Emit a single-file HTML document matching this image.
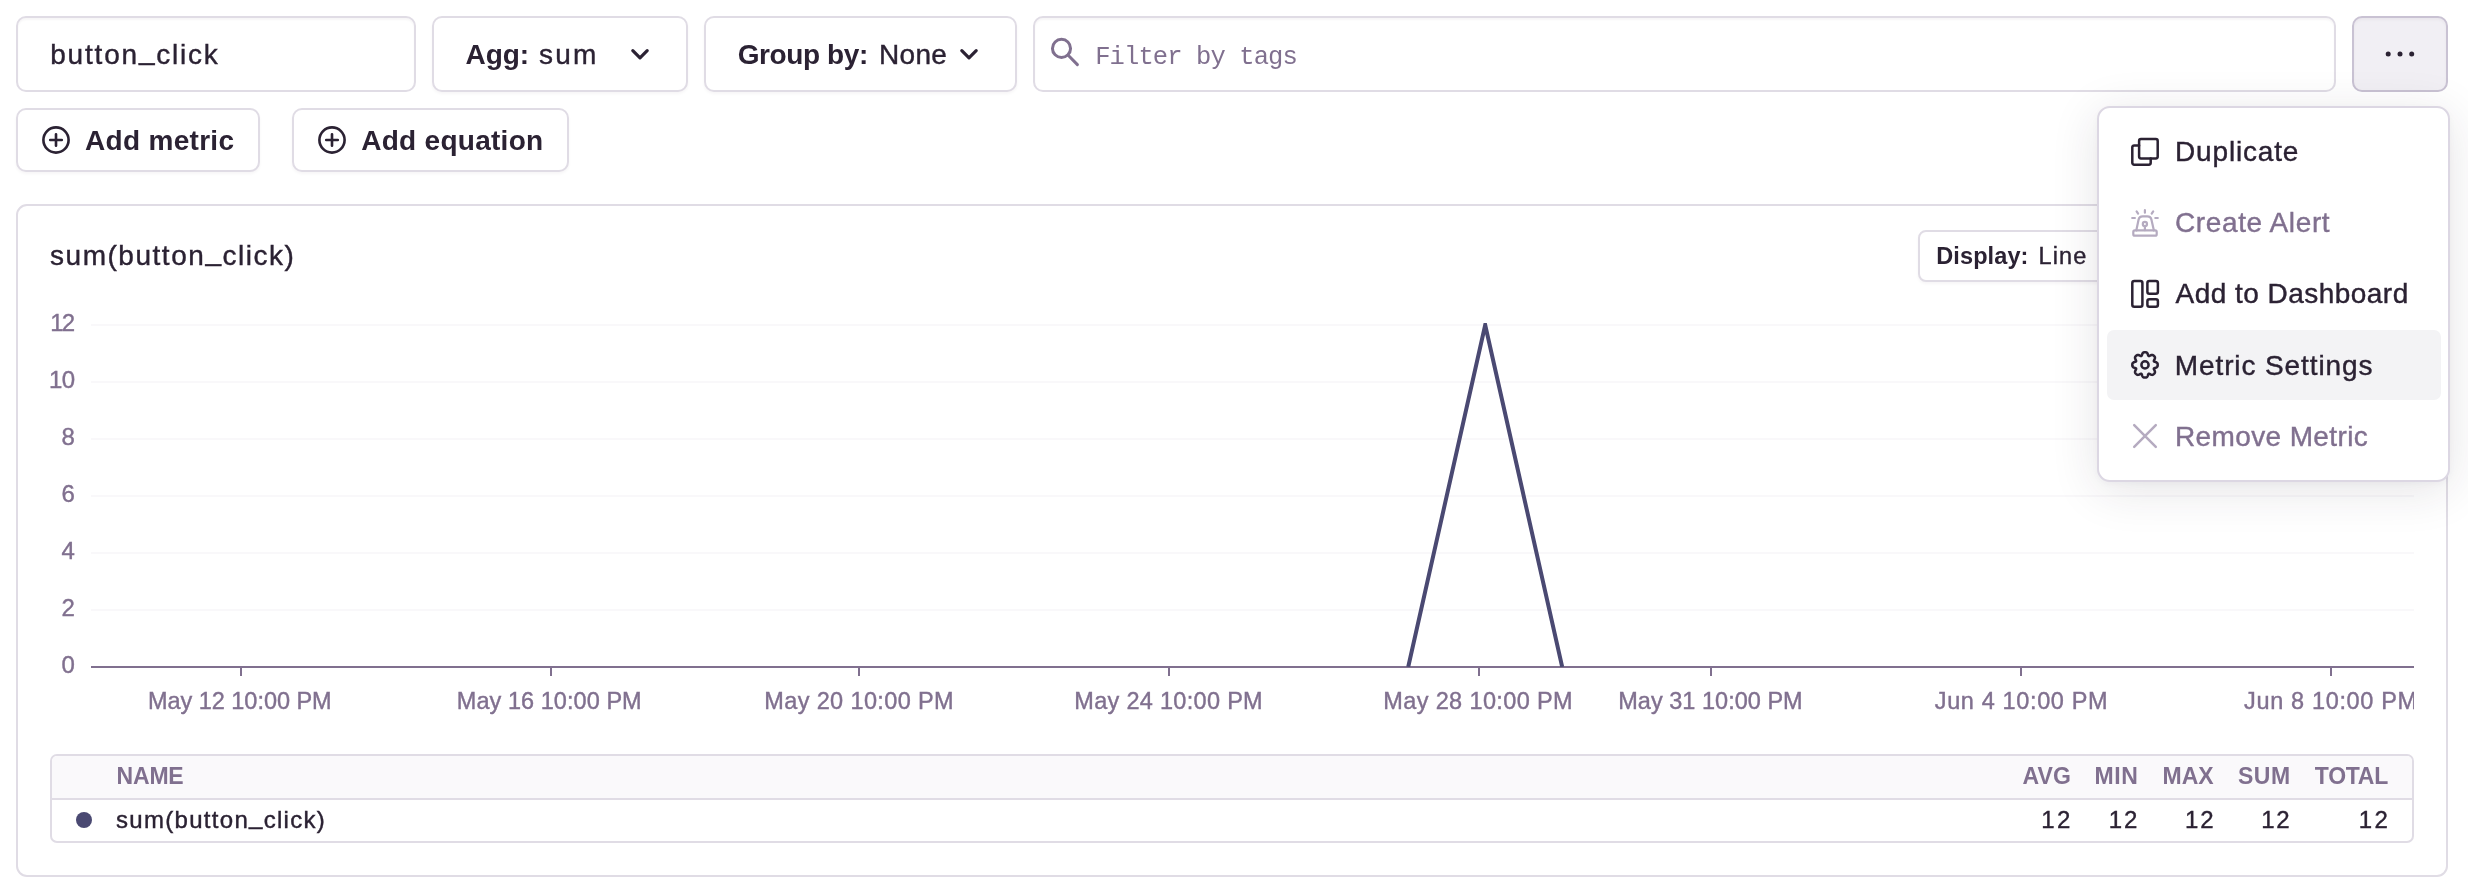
<!DOCTYPE html>
<html lang="en">
<head>
<meta charset="utf-8">
<title>Metrics</title>
<style>
html,body{margin:0;padding:0;background:#fff}
body{width:2468px;height:894px;position:relative;overflow:hidden;font-family:"Liberation Sans",Arial,sans-serif}
.t{position:absolute;white-space:pre;line-height:1;font-family:"Liberation Sans",Arial,sans-serif;-webkit-font-smoothing:antialiased}
.r{-webkit-text-stroke:0.4px currentColor}
.u{position:relative;top:-0.18em}
.abs{position:absolute;box-sizing:border-box}
.box{position:absolute;box-sizing:border-box;border:2px solid #e0dce5;border-radius:10px;background:#fff}
.input{box-shadow:inset 0 2px 2px rgba(43,34,51,.04)}
.btn{box-shadow:0 2px 3px rgba(43,34,51,.04)}
.btn.active{background:#f1eff4;border-color:#c9c2d3;box-shadow:inset 0 2px 3px rgba(43,34,51,.04)}
svg{position:absolute;overflow:visible}
.ic{fill:none;stroke:#2b2233;stroke-linecap:round;stroke-linejoin:round}
#txt{position:absolute;left:0;top:0;width:2468px;height:894px;will-change:transform}
#xclip{position:absolute;left:0;top:680px;width:2414px;height:50px;overflow:hidden}
#xclip .t{margin-top:-680px}
#menu{position:absolute;box-sizing:border-box;left:2097px;top:106px;width:353px;height:376px;border:2px solid #dcd7e3;border-radius:13px;background:#fff;box-shadow:0 8px 48px rgba(43,34,51,.12),0 2px 6px rgba(43,34,51,.03)}
#hover{position:absolute;left:2106.5px;top:329.5px;width:334px;height:70.5px;border-radius:7px;background:#f3f3f5}
.grid{position:absolute;left:91px;width:2323px;height:2px;background:#f9f8fa}
.tick{position:absolute;top:667px;width:2px;height:9px;background:#80708f}
</style>
</head>
<body>
<!-- query row -->
<div class="box input" style="left:16px;top:16px;width:400px;height:76px"></div>
<div class="box btn" style="left:432px;top:16px;width:256px;height:76px"></div>
<div class="box btn" style="left:704px;top:16px;width:313px;height:76px"></div>
<div class="box input" style="left:1033px;top:16px;width:1303px;height:76px"></div>
<div class="box btn active" style="left:2352px;top:16px;width:96px;height:76px"></div>
<!-- second row -->
<div class="box btn" style="left:16px;top:108px;width:244px;height:64px"></div>
<div class="box btn" style="left:292px;top:108px;width:277px;height:64px"></div>
<!-- chart panel -->
<div class="box" style="left:16px;top:204px;width:2432px;height:673px;border-radius:11px"></div>
<div class="box btn" style="left:1918px;top:230px;width:240px;height:52px;border-radius:8px"></div>
<!-- grid -->
<div class="grid" style="top:324px"></div>
<div class="grid" style="top:381px"></div>
<div class="grid" style="top:438px"></div>
<div class="grid" style="top:495px"></div>
<div class="grid" style="top:552px"></div>
<div class="grid" style="top:609px"></div>
<div class="abs" style="left:91px;top:666px;width:2323px;height:2px;background:#80708f"></div>
<div class="tick" style="left:240px"></div>
<div class="tick" style="left:550px"></div>
<div class="tick" style="left:858px"></div>
<div class="tick" style="left:1168px"></div>
<div class="tick" style="left:1478px"></div>
<div class="tick" style="left:1710px"></div>
<div class="tick" style="left:2020px"></div>
<div class="tick" style="left:2330px"></div>
<!-- series -->
<svg style="left:0;top:0" width="2468" height="894" viewBox="0 0 2468 894">
  <defs><clipPath id="gc"><rect x="91" y="323" width="2323" height="344"/></clipPath></defs>
  <polyline clip-path="url(#gc)" points="1408.2,667 1485.2,325 1562.2,667" fill="none" stroke="#4a4972" stroke-width="4" stroke-linejoin="miter" stroke-miterlimit="10"/>
</svg>
<!-- table -->
<div class="box" style="left:50px;top:754px;width:2364px;height:89px;border-radius:7px;overflow:hidden">
  <div class="abs" style="left:0;top:0;width:2360px;height:42px;background:#faf9fb"></div>
  <div class="abs" style="left:0;top:42px;width:2360px;height:2px;background:#e0dce5"></div>
</div>
<div class="abs" style="left:76px;top:812px;width:16px;height:16px;border-radius:8px;background:#4a4972"></div>
<!-- icons: top rows -->
<svg class="ic" style="left:42px;top:126px" width="28" height="28" viewBox="0 0 16 16" stroke-width="1.5"><circle cx="8" cy="8" r="7.2"/><path d="M8 4.7V11.3M4.7 8H11.3"/></svg>
<svg class="ic" style="left:318px;top:126px" width="28" height="28" viewBox="0 0 16 16" stroke-width="1.5"><circle cx="8" cy="8" r="7.2"/><path d="M8 4.7V11.3M4.7 8H11.3"/></svg>
<svg class="ic" style="left:0;top:0" width="2468" height="120" viewBox="0 0 2468 120" stroke-width="3.2"><path d="M632.8 50.6L640 57.8L647.2 50.6"/><path d="M961.8 50.6L969 57.8L976.2 50.6"/></svg>
<svg class="ic" style="left:0;top:0;stroke:#80708f" width="2468" height="120" viewBox="0 0 2468 120" stroke-width="3"><circle cx="1061.5" cy="48.4" r="9.05"/><path d="M1068.2 55.2L1077.4 64.6"/></svg>
<svg style="left:0;top:0" width="2468" height="120" viewBox="0 0 2468 120" fill="#2b2233"><circle cx="2388.2" cy="54" r="2.5"/><circle cx="2400" cy="54" r="2.5"/><circle cx="2411.7" cy="54" r="2.5"/></svg>
<!-- menu -->
<div id="menu"></div>
<div id="hover"></div>
<svg class="ic" style="left:0;top:0" width="2468" height="500" viewBox="0 0 2468 500" stroke-width="2.5">
<g stroke="#2b2233">
<rect x="2139.1" y="139.1" width="18.6" height="19.4" rx="1.9"/>
<path d="M2139.1 145.4H2134.2a1.9 1.9 0 0 0-1.9 1.9V162.8a1.9 1.9 0 0 0 1.9 1.9H2148.8a1.9 1.9 0 0 0 1.9-1.9V158.5"/>
<rect x="2132.3" y="281.1" width="10.1" height="25.6" rx="2"/>
<rect x="2147.4" y="281.1" width="10.5" height="12.7" rx="2"/>
<rect x="2147.4" y="299.2" width="10.5" height="7.5" rx="2"/>
<path d="M2145.00 352.20 L2145.33 352.20 L2145.66 352.22 L2145.99 352.27 L2146.32 352.35 L2146.63 352.50 L2146.93 352.72 L2147.20 353.02 L2147.44 353.40 L2147.65 353.84 L2147.84 354.32 L2147.99 354.79 L2148.14 355.23 L2148.29 355.60 L2148.46 355.87 L2148.67 356.03 L2148.93 356.07 L2149.25 356.00 L2149.61 355.84 L2150.03 355.64 L2150.48 355.41 L2150.94 355.20 L2151.40 355.04 L2151.84 354.95 L2152.25 354.92 L2152.61 354.98 L2152.94 355.10 L2153.23 355.26 L2153.49 355.47 L2153.74 355.69 L2153.98 355.92 L2154.21 356.16 L2154.43 356.41 L2154.64 356.67 L2154.80 356.96 L2154.92 357.29 L2154.98 357.65 L2154.95 358.06 L2154.86 358.50 L2154.70 358.96 L2154.49 359.42 L2154.26 359.87 L2154.06 360.29 L2153.90 360.65 L2153.83 360.97 L2153.87 361.23 L2154.03 361.44 L2154.30 361.61 L2154.67 361.76 L2155.11 361.91 L2155.58 362.06 L2156.06 362.25 L2156.50 362.46 L2156.88 362.70 L2157.18 362.97 L2157.40 363.27 L2157.55 363.58 L2157.63 363.91 L2157.68 364.24 L2157.70 364.57 L2157.70 364.90 L2157.70 365.23 L2157.68 365.56 L2157.63 365.89 L2157.55 366.22 L2157.40 366.53 L2157.18 366.83 L2156.88 367.10 L2156.50 367.34 L2156.06 367.55 L2155.58 367.74 L2155.11 367.89 L2154.67 368.04 L2154.30 368.19 L2154.03 368.36 L2153.87 368.57 L2153.83 368.83 L2153.90 369.15 L2154.06 369.51 L2154.26 369.93 L2154.49 370.38 L2154.70 370.84 L2154.86 371.30 L2154.95 371.74 L2154.98 372.15 L2154.92 372.51 L2154.80 372.84 L2154.64 373.13 L2154.43 373.39 L2154.21 373.64 L2153.98 373.88 L2153.74 374.11 L2153.49 374.33 L2153.23 374.54 L2152.94 374.70 L2152.61 374.82 L2152.25 374.88 L2151.84 374.85 L2151.40 374.76 L2150.94 374.60 L2150.48 374.39 L2150.03 374.16 L2149.61 373.96 L2149.25 373.80 L2148.93 373.73 L2148.67 373.77 L2148.46 373.93 L2148.29 374.20 L2148.14 374.57 L2147.99 375.01 L2147.84 375.48 L2147.65 375.96 L2147.44 376.40 L2147.20 376.78 L2146.93 377.08 L2146.63 377.30 L2146.32 377.45 L2145.99 377.53 L2145.66 377.58 L2145.33 377.60 L2145.00 377.60 L2144.67 377.60 L2144.34 377.58 L2144.01 377.53 L2143.68 377.45 L2143.37 377.30 L2143.07 377.08 L2142.80 376.78 L2142.56 376.40 L2142.35 375.96 L2142.16 375.48 L2142.01 375.01 L2141.86 374.57 L2141.71 374.20 L2141.54 373.93 L2141.33 373.77 L2141.07 373.73 L2140.75 373.80 L2140.39 373.96 L2139.97 374.16 L2139.52 374.39 L2139.06 374.60 L2138.60 374.76 L2138.16 374.85 L2137.75 374.88 L2137.39 374.82 L2137.06 374.70 L2136.77 374.54 L2136.51 374.33 L2136.26 374.11 L2136.02 373.88 L2135.79 373.64 L2135.57 373.39 L2135.36 373.13 L2135.20 372.84 L2135.08 372.51 L2135.02 372.15 L2135.05 371.74 L2135.14 371.30 L2135.30 370.84 L2135.51 370.38 L2135.74 369.93 L2135.94 369.51 L2136.10 369.15 L2136.17 368.83 L2136.13 368.57 L2135.97 368.36 L2135.70 368.19 L2135.33 368.04 L2134.89 367.89 L2134.42 367.74 L2133.94 367.55 L2133.50 367.34 L2133.12 367.10 L2132.82 366.83 L2132.60 366.53 L2132.45 366.22 L2132.37 365.89 L2132.32 365.56 L2132.30 365.23 L2132.30 364.90 L2132.30 364.57 L2132.32 364.24 L2132.37 363.91 L2132.45 363.58 L2132.60 363.27 L2132.82 362.97 L2133.12 362.70 L2133.50 362.46 L2133.94 362.25 L2134.42 362.06 L2134.89 361.91 L2135.33 361.76 L2135.70 361.61 L2135.97 361.44 L2136.13 361.23 L2136.17 360.97 L2136.10 360.65 L2135.94 360.29 L2135.74 359.87 L2135.51 359.42 L2135.30 358.96 L2135.14 358.50 L2135.05 358.06 L2135.02 357.65 L2135.08 357.29 L2135.20 356.96 L2135.36 356.67 L2135.57 356.41 L2135.79 356.16 L2136.02 355.92 L2136.26 355.69 L2136.51 355.47 L2136.77 355.26 L2137.06 355.10 L2137.39 354.98 L2137.75 354.92 L2138.16 354.95 L2138.60 355.04 L2139.06 355.20 L2139.52 355.41 L2139.97 355.64 L2140.39 355.84 L2140.75 356.00 L2141.07 356.07 L2141.33 356.03 L2141.54 355.87 L2141.71 355.60 L2141.86 355.23 L2142.01 354.79 L2142.16 354.32 L2142.35 353.84 L2142.56 353.40 L2142.80 353.02 L2143.07 352.72 L2143.37 352.50 L2143.68 352.35 L2144.01 352.27 L2144.34 352.22 L2144.67 352.20Z"/>
<circle cx="2145" cy="364.9" r="3.6"/>
</g>
<g stroke="#b5abc0" stroke-width="2.2">
<rect x="2133.3" y="230.4" width="23.4" height="5.3" rx="1.5"/>
<path d="M2136.3 230.4L2138.6 219.6Q2139.3 216.4 2142.6 216.4H2147.4Q2150.7 216.4 2151.4 219.6L2153.9 230.4"/>
<circle cx="2144.9" cy="224" r="2.1"/>
<path d="M2144.9 226.3V230.2M2144.9 210.2V212.7M2136.6 211.4L2138.1 213.7M2153.2 211.4L2151.7 213.7M2132.2 218H2134.9M2155.3 218H2157.8"/>
<path stroke-width="2.5" d="M2134.2 425.1L2155.8 446.9M2155.8 425.1L2134.2 446.9"/>
</g>
</svg>
<!-- text -->
<div id="txt">
<div role="group" aria-label="Metric query">
<span class="t r" id="t_metric" style="left:50.25px;top:41.00px;font-size:28px;font-weight:400;color:#2b2233;letter-spacing:1.795px;">button<span class="u">_</span>click</span>
<span class="t" id="t_agg" style="left:465.50px;top:41.00px;font-size:28px;font-weight:700;color:#2b2233;letter-spacing:-0.083px;">Agg:</span>
<span class="t r" id="t_sum" style="left:539.00px;top:41.00px;font-size:28px;font-weight:400;color:#2b2233;letter-spacing:2.250px;">sum</span>
<span class="t" id="t_group" style="left:737.75px;top:41.00px;font-size:28px;font-weight:700;color:#2b2233;letter-spacing:-0.406px;">Group by:</span>
<span class="t r" id="t_none" style="left:879.00px;top:41.00px;font-size:28px;font-weight:400;color:#2b2233;letter-spacing:0.333px;">None</span>
<span class="t" id="t_filter" style="left:1095.20px;top:45.00px;font-size:25.5px;font-weight:400;color:#80708f;letter-spacing:-0.892px;font-family:'Liberation Mono', monospace;">Filter by tags</span>
</div>
<div role="group" aria-label="Add query">
<span class="t" id="t_addm" style="left:85.00px;top:127.00px;font-size:28px;font-weight:700;color:#2b2233;letter-spacing:0.306px;">Add metric</span>
<span class="t" id="t_adde" style="left:361.25px;top:127.00px;font-size:28px;font-weight:700;color:#2b2233;letter-spacing:0.273px;">Add equation</span>
</div>
<div role="group" aria-label="Chart header">
<span class="t r" id="t_title" style="left:50.00px;top:242.00px;font-size:28px;font-weight:400;color:#2b2233;letter-spacing:1.531px;">sum(button<span class="u">_</span>click)</span>
<span class="t" id="t_disp" style="left:1936.25px;top:245.00px;font-size:23.5px;font-weight:700;color:#2b2233;letter-spacing:0.107px;">Display:</span>
<span class="t r" id="t_line" style="left:2038.50px;top:245.00px;font-size:23.5px;font-weight:400;color:#2b2233;letter-spacing:1.167px;">Line</span>
</div>
<div role="group" aria-label="Y axis">
<span class="t r" id="y0" style="left:50.25px;top:311.00px;font-size:24px;font-weight:400;color:#80708f;letter-spacing:-1.850px;">12</span>
<span class="t r" id="y1" style="left:49.00px;top:368.00px;font-size:24px;font-weight:400;color:#80708f;letter-spacing:-0.600px;">10</span>
<span class="t r" id="y2" style="left:61.40px;top:425.00px;font-size:24px;font-weight:400;color:#80708f;letter-spacing:0.000px;">8</span>
<span class="t r" id="y3" style="left:61.40px;top:482.00px;font-size:24px;font-weight:400;color:#80708f;letter-spacing:0.000px;">6</span>
<span class="t r" id="y4" style="left:61.40px;top:539.00px;font-size:24px;font-weight:400;color:#80708f;letter-spacing:0.000px;">4</span>
<span class="t r" id="y5" style="left:61.40px;top:596.00px;font-size:24px;font-weight:400;color:#80708f;letter-spacing:0.000px;">2</span>
<span class="t r" id="y6" style="left:61.40px;top:653.00px;font-size:24px;font-weight:400;color:#80708f;letter-spacing:0.000px;">0</span>
</div>
<div id="xclip" role="group" aria-label="X axis">
<span class="t xl r" id="x0" style="left:148.00px;top:690.00px;font-size:23.5px;font-weight:400;color:#80708f;letter-spacing:-0.036px;">May 12 10:00 PM</span>
<span class="t xl r" id="x1" style="left:456.75px;top:690.00px;font-size:23.5px;font-weight:400;color:#80708f;letter-spacing:0.054px;">May 16 10:00 PM</span>
<span class="t xl r" id="x2" style="left:764.25px;top:690.00px;font-size:23.5px;font-weight:400;color:#80708f;letter-spacing:0.375px;">May 20 10:00 PM</span>
<span class="t xl r" id="x3" style="left:1074.25px;top:690.00px;font-size:23.5px;font-weight:400;color:#80708f;letter-spacing:0.304px;">May 24 10:00 PM</span>
<span class="t xl r" id="x4" style="left:1383.25px;top:690.00px;font-size:23.5px;font-weight:400;color:#80708f;letter-spacing:0.375px;">May 28 10:00 PM</span>
<span class="t xl r" id="x5" style="left:1618.25px;top:690.00px;font-size:23.5px;font-weight:400;color:#80708f;letter-spacing:0.018px;">May 31 10:00 PM</span>
<span class="t xl r" id="x6" style="left:1934.75px;top:690.00px;font-size:23.5px;font-weight:400;color:#80708f;letter-spacing:0.635px;">Jun 4 10:00 PM</span>
<span class="t xl r" id="x7" style="left:2244.00px;top:690.00px;font-size:23.5px;font-weight:400;color:#80708f;letter-spacing:0.654px;">Jun 8 10:00 PM</span>
</div>
<div role="row" aria-label="Summary header">
<span role="columnheader" class="t" id="th_name" style="left:116.60px;top:765.00px;font-size:23px;font-weight:700;color:#80708f;letter-spacing:-0.200px;">NAME</span>
<span role="columnheader" class="t" id="th_avg" style="left:2022.50px;top:765.00px;font-size:23px;font-weight:700;color:#80708f;letter-spacing:0.125px;">AVG</span>
<span role="columnheader" class="t" id="th_min" style="left:2094.50px;top:765.00px;font-size:23px;font-weight:700;color:#80708f;letter-spacing:0.625px;">MIN</span>
<span role="columnheader" class="t" id="th_max" style="left:2162.50px;top:765.00px;font-size:23px;font-weight:700;color:#80708f;letter-spacing:0.000px;">MAX</span>
<span role="columnheader" class="t" id="th_sum" style="left:2238.00px;top:765.00px;font-size:23px;font-weight:700;color:#80708f;letter-spacing:0.500px;">SUM</span>
<span role="columnheader" class="t" id="th_total" style="left:2314.75px;top:765.00px;font-size:23px;font-weight:700;color:#80708f;letter-spacing:-0.250px;">TOTAL</span>
</div>
<div role="row" aria-label="Summary row">
<span role="cell" class="t r" id="td_name" style="left:116.00px;top:808.00px;font-size:24px;font-weight:400;color:#2b2233;letter-spacing:1.297px;">sum(button<span class="u">_</span>click)</span>
<span role="cell" class="t r" id="td_avg" style="left:2041.25px;top:808.00px;font-size:24px;font-weight:400;color:#2b2233;letter-spacing:2.500px;">12</span>
<span role="cell" class="t r" id="td_min" style="left:2108.75px;top:808.00px;font-size:24px;font-weight:400;color:#2b2233;letter-spacing:2.000px;">12</span>
<span role="cell" class="t r" id="td_max" style="left:2185.00px;top:808.00px;font-size:24px;font-weight:400;color:#2b2233;letter-spacing:2.000px;">12</span>
<span role="cell" class="t r" id="td_sum" style="left:2261.25px;top:808.00px;font-size:24px;font-weight:400;color:#2b2233;letter-spacing:1.750px;">12</span>
<span role="cell" class="t r" id="td_total" style="left:2358.75px;top:808.00px;font-size:24px;font-weight:400;color:#2b2233;letter-spacing:2.500px;">12</span>
</div>
<div role="menu" aria-label="Widget actions">
<span role="menuitem" class="t r" id="m_dup" style="left:2175.00px;top:138.00px;font-size:28px;font-weight:400;color:#2b2233;letter-spacing:0.837px;">Duplicate</span>
<span role="menuitem" class="t r" id="m_alert" style="left:2175.00px;top:209.00px;font-size:28px;font-weight:400;color:#80708f;letter-spacing:0.614px;">Create Alert</span>
<span role="menuitem" class="t r" id="m_dash" style="left:2175.50px;top:280.00px;font-size:28px;font-weight:400;color:#2b2233;letter-spacing:0.467px;">Add to Dashboard</span>
<span role="menuitem" class="t r" id="m_set" style="left:2174.80px;top:352.00px;font-size:28px;font-weight:400;color:#2b2233;letter-spacing:0.889px;">Metric Settings</span>
<span role="menuitem" class="t r" id="m_rm" style="left:2175.00px;top:423.00px;font-size:28px;font-weight:400;color:#80708f;letter-spacing:0.375px;">Remove Metric</span>
</div>
</div>
</body>
</html>
